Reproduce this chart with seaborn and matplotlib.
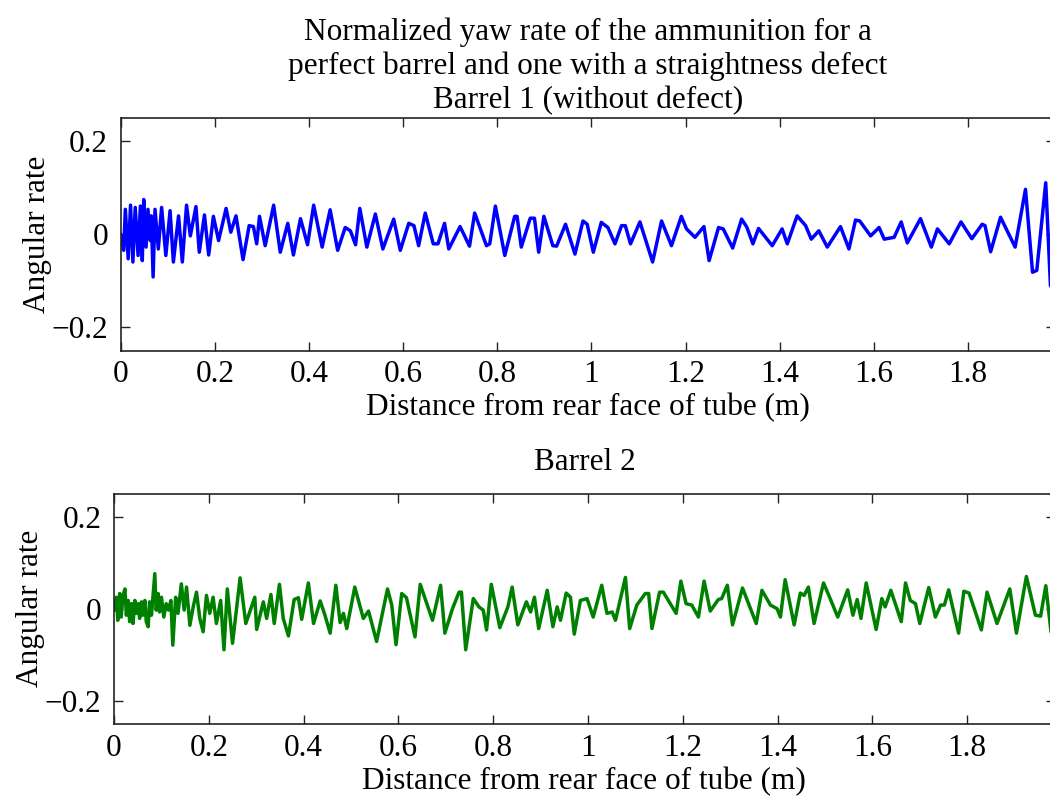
import matplotlib
matplotlib.use("Agg")
import matplotlib.pyplot as plt
import seaborn as sns

# Barrel 1 (without defect): yaw rate peaks/troughs
barrel1_x = [0.000, 0.0065, 0.010, 0.016, 0.021, 0.026, 0.031, 0.037, 0.042, 0.046,
             0.049, 0.054, 0.058, 0.063, 0.065, 0.069, 0.073, 0.080, 0.087, 0.096,
             0.105, 0.112, 0.123, 0.131, 0.140, 0.148, 0.160, 0.167, 0.178, 0.187,
             0.197, 0.208, 0.224, 0.234, 0.245, 0.260, 0.273, 0.282, 0.289, 0.295,
             0.307, 0.325, 0.339, 0.355, 0.367, 0.382, 0.397, 0.410, 0.428, 0.445,
             0.461, 0.477, 0.488, 0.499, 0.508, 0.523, 0.541, 0.557, 0.580, 0.594,
             0.612, 0.623, 0.633, 0.647, 0.664, 0.674, 0.688, 0.697, 0.721, 0.741,
             0.752, 0.777, 0.784, 0.796, 0.816, 0.837, 0.842, 0.851, 0.870, 0.879,
             0.888, 0.899, 0.918, 0.926, 0.945, 0.965, 0.982, 0.991, 1.004, 1.021,
             1.035, 1.050, 1.064, 1.072, 1.083, 1.103, 1.130, 1.149, 1.170, 1.191,
             1.202, 1.220, 1.239, 1.250, 1.270, 1.280, 1.300, 1.319, 1.330, 1.343,
             1.355, 1.384, 1.405, 1.416, 1.437, 1.455, 1.467, 1.483, 1.501, 1.529,
             1.547, 1.561, 1.570, 1.593, 1.611, 1.622, 1.643, 1.658, 1.671, 1.699,
             1.722, 1.735, 1.760, 1.785, 1.808, 1.830, 1.836, 1.848, 1.869, 1.900,
             1.922, 1.937, 1.946, 1.965, 1.975, 1.985]
barrel1_y = [0.000, -0.035, 0.053, -0.053, 0.062, -0.060, 0.057, -0.046, 0.060, -0.057,
             0.074, -0.028, 0.053, -0.014, 0.039, -0.092, 0.053, -0.032, 0.057, -0.046,
             0.050, -0.060, 0.039, -0.060, 0.062, -0.004, 0.059, -0.039, 0.041, -0.045,
             0.038, -0.014, 0.055, 0.004, 0.039, -0.055, 0.018, 0.016, -0.021, 0.038,
             -0.025, 0.062, -0.039, 0.023, -0.045, 0.033, -0.023, 0.062, -0.028, 0.052,
             -0.035, 0.014, 0.007, -0.023, 0.055, -0.028, 0.043, -0.032, 0.032, -0.035,
             0.023, 0.018, -0.025, 0.045, -0.021, -0.021, 0.023, -0.032, 0.016, -0.026,
             0.045, -0.025, -0.021, 0.060, -0.046, 0.038, 0.038, -0.028, 0.034, 0.034,
             -0.039, 0.038, -0.025, -0.026, 0.021, -0.043, 0.028, 0.021, -0.039, 0.025,
             0.014, -0.021, 0.018, 0.018, -0.021, 0.026, -0.060, 0.028, -0.025, 0.038,
             0.011, -0.007, 0.016, -0.057, 0.014, 0.011, -0.030, 0.032, 0.015, -0.021,
             0.012, -0.025, 0.011, -0.021, 0.039, 0.018, -0.011, 0.007, -0.028, 0.016,
             -0.032, 0.030, 0.028, -0.004, 0.014, -0.011, -0.007, 0.026, -0.019, 0.033,
             -0.028, 0.011, -0.021, 0.026, -0.010, 0.021, 0.018, -0.038, 0.036, -0.028,
             0.096, -0.082, -0.078, 0.110, -0.110, -0.130]

# Barrel 2: yaw rate peaks/troughs
barrel2_x = [0.001, 0.005, 0.008, 0.012, 0.015, 0.019, 0.023, 0.026, 0.030, 0.033,
             0.037, 0.040, 0.044, 0.047, 0.051, 0.054, 0.058, 0.061, 0.065, 0.068,
             0.072, 0.075, 0.079, 0.082, 0.086, 0.089, 0.093, 0.096, 0.100, 0.105,
             0.110, 0.115, 0.120, 0.124, 0.130, 0.135, 0.142, 0.148, 0.153, 0.160,
             0.167, 0.174, 0.181, 0.188, 0.195, 0.202, 0.209, 0.216, 0.225, 0.232,
             0.239, 0.250, 0.266, 0.278, 0.297, 0.301, 0.315, 0.322, 0.331, 0.338,
             0.349, 0.357, 0.368, 0.380, 0.389, 0.396, 0.410, 0.421, 0.435, 0.445,
             0.456, 0.468, 0.477, 0.484, 0.491, 0.508, 0.526, 0.537, 0.554, 0.577,
             0.586, 0.595, 0.607, 0.617, 0.635, 0.646, 0.672, 0.689, 0.698, 0.714,
             0.728, 0.733, 0.742, 0.758, 0.770, 0.779, 0.786, 0.796, 0.814, 0.831,
             0.840, 0.852, 0.870, 0.879, 0.887, 0.896, 0.914, 0.926, 0.935, 0.942,
             0.954, 0.963, 0.971, 0.984, 0.998, 1.011, 1.029, 1.040, 1.051, 1.058,
             1.079, 1.088, 1.103, 1.121, 1.128, 1.135, 1.151, 1.159, 1.180, 1.186,
             1.196, 1.207, 1.219, 1.233, 1.245, 1.258, 1.275, 1.282, 1.294, 1.305,
             1.326, 1.355, 1.367, 1.385, 1.399, 1.406, 1.416, 1.435, 1.448, 1.456,
             1.465, 1.477, 1.497, 1.511, 1.527, 1.548, 1.559, 1.568, 1.576, 1.587,
             1.608, 1.620, 1.627, 1.639, 1.661, 1.670, 1.680, 1.691, 1.700, 1.719,
             1.733, 1.744, 1.752, 1.761, 1.782, 1.793, 1.804, 1.830, 1.842, 1.863,
             1.890, 1.904, 1.925, 1.944, 1.955, 1.966, 1.978]
barrel2_y = [-0.003, 0.025, -0.025, 0.033, -0.018, 0.029, 0.043, -0.014, 0.018, -0.028,
             0.011, -0.032, 0.018, -0.010, 0.011, -0.021, 0.015, -0.014, 0.018, -0.028,
             -0.039, 0.015, -0.014, 0.025, 0.076, -0.003, 0.033, -0.007, 0.025, -0.018,
             0.011, -0.003, 0.018, -0.079, 0.025, -0.010, 0.054, -0.003, 0.047, -0.036,
             0.004, 0.036, -0.021, -0.050, 0.029, -0.010, 0.025, -0.032, 0.018, -0.089,
             0.043, -0.075, 0.067, -0.032, 0.025, -0.045, 0.015, -0.021, 0.031, -0.032,
             0.053, -0.021, -0.059, 0.020, 0.024, -0.023, 0.056, -0.032, 0.017, -0.014,
             -0.053, 0.051, -0.030, -0.010, -0.043, 0.047, -0.021, -0.005, -0.071, 0.043,
             0.008, -0.078, 0.033, 0.024, -0.061, 0.053, -0.025, 0.051, -0.053, 0.000,
             0.036, 0.036, -0.089, 0.022, 0.004, -0.003, -0.046, 0.053, -0.041, 0.004,
             0.047, -0.035, 0.015, -0.007, 0.025, -0.043, 0.040, -0.039, 0.004, -0.025,
             0.034, 0.025, -0.055, 0.018, 0.022, -0.018, 0.051, -0.010, -0.007, -0.025,
             0.068, -0.043, 0.008, 0.033, 0.033, -0.043, 0.036, 0.036, 0.000, -0.010,
             0.060, 0.011, 0.008, -0.018, 0.060, -0.005, 0.020, 0.022, 0.051, -0.035,
             0.045, -0.032, 0.040, 0.008, 0.000, -0.018, 0.063, -0.035, 0.034, 0.029,
             0.047, -0.032, 0.056, 0.022, -0.018, 0.041, -0.014, 0.020, -0.021, 0.056,
             -0.045, 0.022, 0.004, 0.040, -0.028, 0.056, 0.018, 0.011, -0.032, 0.046,
             -0.018, 0.008, 0.008, 0.041, -0.053, 0.038, 0.034, -0.046, 0.036, -0.032,
             0.043, -0.053, 0.070, -0.014, -0.016, 0.050, -0.060]

x_ticks = [0, 0.2, 0.4, 0.6, 0.8, 1.0, 1.2, 1.4, 1.6, 1.8]
x_tick_labels = ["0", "0.2", "0.4", "0.6", "0.8", "1", "1.2", "1.4", "1.6", "1.8"]
y_ticks = [-0.2, 0, 0.2]
y_tick_labels = ["\u22120.2", "0", "0.2"]

title_top = ("Normalized yaw rate of the ammunition for a\n"
             "perfect barrel and one with a straightness defect\n"
             "Barrel 1 (without defect)")
title_bottom = "Barrel 2"
xlabel = "Distance from rear face of tube (m)"
ylabel = "Angular rate"

sns.set_style("ticks")
plt.rcParams['font.family'] = ['Liberation Serif', 'DejaVu Serif']
plt.rcParams['text.color'] = 'black'
plt.rcParams['axes.labelcolor'] = 'black'
plt.rcParams['xtick.color'] = 'black'
plt.rcParams['ytick.color'] = 'black'
fs = 22.5

fig = plt.figure(figsize=(10.5, 7.97), dpi=100)
ax1 = fig.add_axes([0.1149, 0.5602, 0.890, 0.2923])
ax2 = fig.add_axes([0.1086, 0.0916, 0.896, 0.2892])

sns.lineplot(x=barrel1_x, y=barrel1_y, ax=ax1, color="#0000ff", linewidth=2.5,
             sort=False, estimator=None)
sns.lineplot(x=barrel2_x, y=barrel2_y, ax=ax2, color="#008000", linewidth=2.5,
             sort=False, estimator=None)

for ax in (ax1, ax2):
    ax.set_xlim(0, 1.985)
    ax.set_ylim(-0.25, 0.25)
    ax.set_xticks(x_ticks)
    ax.set_xticklabels(x_tick_labels)
    ax.set_yticks(y_ticks)
    ax.set_yticklabels(y_tick_labels)
    ax.tick_params(axis="both", direction="in", length=6.5, width=1.0,
                   top=True, right=True, labelsize=fs, color="#222222",
                   labelcolor="black")
    ax.tick_params(axis="x", pad=7)
    ax.tick_params(axis="y", pad=9)
    for s in ax.spines.values():
        s.set_linewidth(1.2)
        s.set_color("#222222")
        s.set_visible(True)
    ax.set_xlabel(xlabel, fontsize=fs, labelpad=3, color="black")
    ax.set_ylabel(ylabel, fontsize=fs, labelpad=0, color="black")

ax1.set_title(title_top, fontsize=fs, pad=7, color="black")
ax2.set_title(title_bottom, fontsize=fs, pad=17, color="black")

fig.savefig("out.png", dpi=100)
